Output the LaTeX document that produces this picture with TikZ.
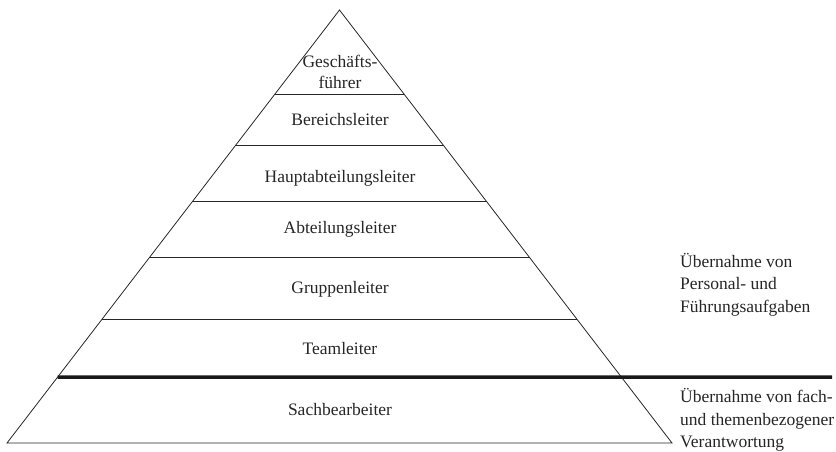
\documentclass[tikz,border=0pt]{standalone}
\usepackage{fontspec}
\setmainfont{Liberation Serif}
\usetikzlibrary{calc}
\begin{document}
\begin{tikzpicture}[x=1pt,y=-1pt,
  edge/.style={draw=black!85, line width=0.8pt},
  sep/.style={draw=black!85, line width=0.8pt},
  thickline/.style={draw=black!90, line width=3.5pt},
  lvl/.style={anchor=base, inner sep=0pt, align=center, font=\fontsize{17.5}{21.5}\selectfont, text=black!85},
  note/.style={anchor=base west, inner sep=0pt, align=left, font=\fontsize{17.5}{22.5}\selectfont, text=black!85}]
\useasboundingbox (0,0) rectangle (836,452);
\coordinate (apex) at (339.5,10);
\coordinate (bl) at (7,443);
\coordinate (br) at (672,443);
\draw[edge] (bl) -- (apex) -- (br) -- cycle;
\foreach \t/\n in {0.194/1,0.3118/2,0.4411/3,0.5704/4,0.7136/5}{
  \coordinate (l\n) at ($(apex)!\t!(bl)$);
  \coordinate (r\n) at ($(apex)!\t!(br)$);
  \draw[sep] (l\n) -- (r\n);
}
\coordinate (l6) at ($(apex)!0.8476!(bl)$);
\coordinate (thickend) at (832,377);
\draw[thickline] (l6) -- (thickend);
\node[lvl] (gf) at (340,88.5) {Geschäfts-\\führer};
\node[lvl] (bl1) at (340,125.5) {Bereichsleiter};
\node[lvl] (hal) at (340,182.5) {Hauptabteilungsleiter};
\node[lvl] (al) at (340,233) {Abteilungsleiter};
\node[lvl] (grl) at (340,293) {Gruppenleiter};
\node[lvl] (tl) at (340,354) {Teamleiter};
\node[lvl] (sb) at (340,415) {Sachbearbeiter};
\node[note] (n1) at (680,312) {Übernahme von\\Personal- und\\Führungsaufgaben};
\node[note] (n2) at (680,447.5) {Übernahme von fach-\\und themenbezogener\\Verantwortung};
\end{tikzpicture}
\end{document}
